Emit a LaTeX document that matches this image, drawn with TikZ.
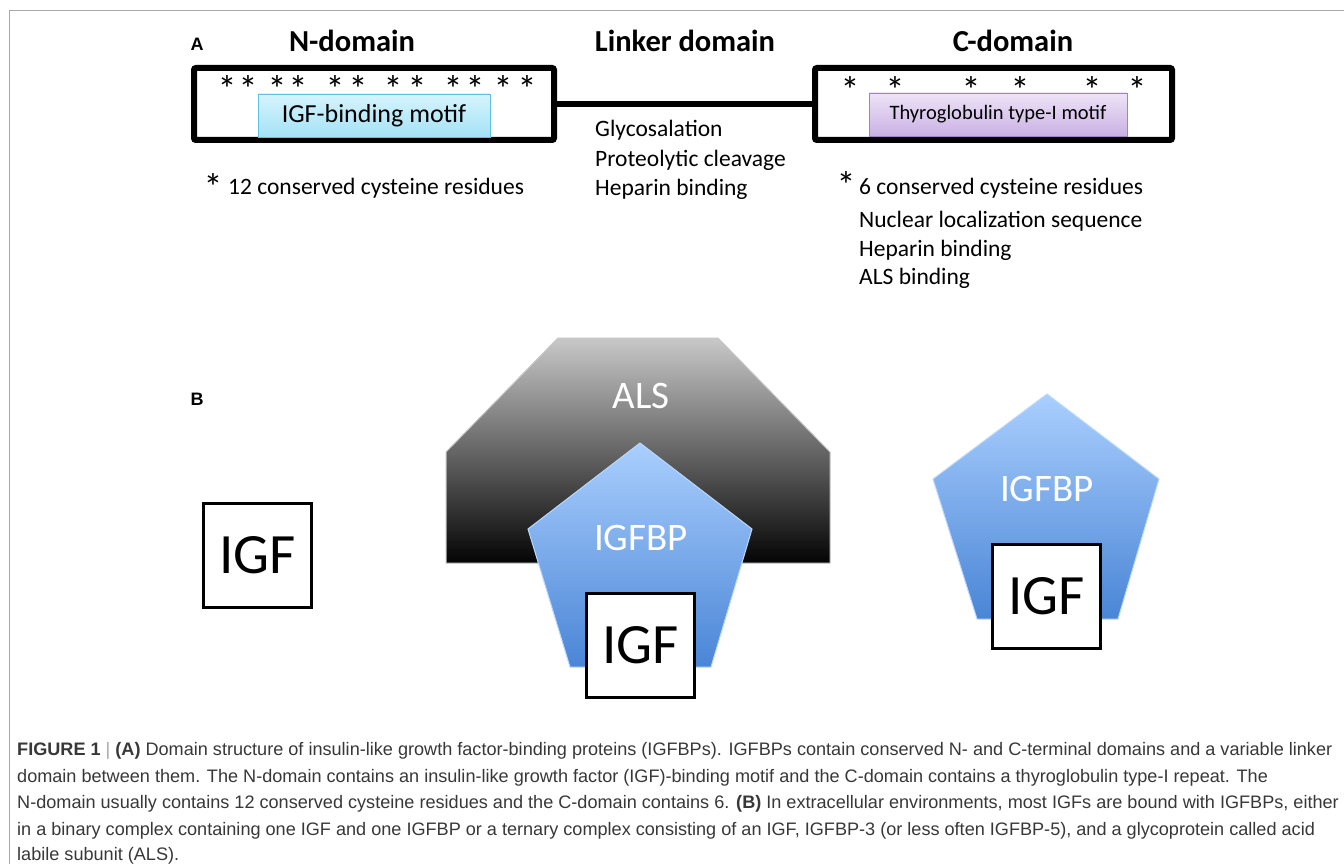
\documentclass[tikz,border=0pt]{standalone}
\usepackage{fontspec}
\setmainfont{Carlito}
\newfontfamily\capfont{Liberation Sans}
\newcommand\cyststar{\raisebox{-22.5pt}{\smash{*}}}
\definecolor{framecol}{HTML}{A8A8A8}
\definecolor{captxt}{HTML}{383838}
\definecolor{cyanT}{HTML}{D6F4FD}
\definecolor{cyanB}{HTML}{A4E2F5}
\definecolor{cyanE}{HTML}{5FC1E0}
\definecolor{lavT}{HTML}{EEE3F7}
\definecolor{lavB}{HTML}{C9B1E4}
\definecolor{lavE}{HTML}{9E84C4}
\definecolor{alsT}{HTML}{C8C8C8}
\definecolor{alsB}{HTML}{040404}
\definecolor{bpT}{HTML}{AACFFE}
\definecolor{bpB}{HTML}{4A85D6}
\definecolor{bpE}{HTML}{BCD8FB}
\begin{document}
\begin{tikzpicture}[x=1pt,y=-1pt,
  domainbox/.style={draw=black,line width=6,rounded corners=2,minimum width=#1,minimum height=72,inner sep=0},
  motifN/.style={draw=cyanE,line width=0.8,top color=cyanT,bottom color=cyanB,minimum width=232,minimum height=43,inner sep=0,font=\fontsize{26}{30}\selectfont},
  motifC/.style={draw=lavE,line width=0.8,top color=lavT,bottom color=lavB,minimum width=258,minimum height=43,inner sep=0,font=\fontsize{20.5}{24}\selectfont},
  cyst/.style={inner sep=0,anchor=center,text height=5pt,text depth=5pt,font=\fontsize{38}{38}\selectfont},
  head/.style={inner sep=0,anchor=base,font=\bfseries\fontsize{30.5}{36}\selectfont},
  sidetext/.style={inner sep=0,anchor=base west,font=\fontsize{23.5}{28}\selectfont},
  panel/.style={inner sep=0,anchor=base,font=\capfont\bfseries\fontsize{18}{20}\selectfont},
  igfbox/.style={draw=black,fill=white,line width=3,minimum width=108,minimum height=104,inner sep=0,font=\fontsize{57}{60}\selectfont},
  whitelabel/.style={inner sep=0,anchor=base,text=white,font=\fontsize{39}{44}\selectfont},
  captext/.style={inner sep=0,anchor=base west,text=captxt,font=\capfont\fontsize{18.1}{26}\selectfont}
]
\useasboundingbox (0,0) rectangle (1344,864);
\fill[white] (0,0) rectangle (1344,864);
\draw[framecol,line width=1.5] (9.5,864) -- (9.5,10.5) -- (1344,10.5);

% ---- Panel A ----
\node[panel] (labA) at (197,51) {A};
\node[head] (hN) at (352,52) {N-domain};
\node[head] (hL) at (685,52) {Linker domain};
\node[head] (hC) at (1013,52) {C-domain};

\node[domainbox=360] (nbox) at (374,104) {};
\node[domainbox=357] (cbox) at (993.5,104) {};
\draw[line width=6] (nbox.east) -- (cbox.west);

\node[motifN] (igfmotif) at (374,115.5) {IGF-binding motif};
\node[motifC] (tgmotif) at (998,114.5) {Thyroglobulin type-I motif};

\foreach \x [count=\i] in {227,248,277,298,335,358,393,417,453,475,503,527}
  \node[cyst] (ns\i) at (\x,80) {\cyststar};
\foreach \x [count=\i] in {850,895,971,1020,1092,1137}
  \node[cyst] (cs\i) at (\x,81) {\cyststar};

\node[cyst] (nstar) at (213,178) {\cyststar};
\node[sidetext] (ntext) at (228,194) {12 conserved cysteine residues};
\node[sidetext] (l1) at (595,137) {Glycosalation};
\node[sidetext] (l2) at (595,166) {Proteolytic cleavage};
\node[sidetext] (l3) at (595,195) {Heparin binding};
\node[cyst] (cstar) at (846,176) {\cyststar};
\node[sidetext] (c1) at (859,194) {6 conserved cysteine residues};
\node[sidetext] (c2) at (859,227) {Nuclear localization sequence};
\node[sidetext] (c3) at (859,256) {Heparin binding};
\node[sidetext] (c4) at (859,284) {ALS binding};

% ---- Panel B ----
\node[panel] (labB) at (197,405) {B};
\node[igfbox] (igf1) at (257.5,555) {IGF};

\shade[top color=alsT,bottom color=alsB] (558,338) -- (718,338) -- (830,452) -- (830,563) -- (446,563) -- (446,452) -- cycle;
\draw[gray!45,line width=1] (558,338) -- (718,338) -- (830,452) -- (830,563) -- (446,563) -- (446,452) -- cycle;
\node[whitelabel] (als) at (641,408) {ALS};

\shade[top color=bpT,bottom color=bpB] (640,443) -- (752,529) -- (711,667) -- (570,667) -- (528,529) -- cycle;
\draw[bpE,line width=1] (640,443) -- (752,529) -- (711,667) -- (570,667) -- (528,529) -- cycle;
\node[whitelabel] (bp1) at (641,550) {IGFBP};
\node[igfbox] (igf2) at (640.5,645.5) {IGF};

\shade[top color=bpT,bottom color=bpB] (1047,394) -- (1159,479) -- (1118,619) -- (977,619) -- (933,479) -- cycle;
\draw[bpE,line width=1] (1047,394) -- (1159,479) -- (1118,619) -- (977,619) -- (933,479) -- cycle;
\node[whitelabel] (bp2) at (1047,501) {IGFBP};
\node[igfbox] (igf3) at (1046.5,596.5) {IGF};

% ---- Caption ----
\node[captext] (cap1) at (17,755.5) {\textbf{FIGURE 1} {\color{gray!70}|} \textbf{(A)} Domain structure of insulin-like growth factor-binding proteins (IGFBPs). IGFBPs contain conserved N- and C-terminal domains and a variable linker};
\node[captext] (cap2) at (17,782) {domain between them. The N-domain contains an insulin-like growth factor (IGF)-binding motif and the C-domain contains a thyroglobulin type-I repeat. The};
\node[captext] (cap3) at (17,808.5) {N-domain usually contains 12 conserved cysteine residues and the C-domain contains 6. \textbf{(B)} In extracellular environments, most IGFs are bound with IGFBPs, either};
\node[captext] (cap4) at (17,835) {in a binary complex containing one IGF and one IGFBP or a ternary complex consisting of an IGF, IGFBP-3 (or less often IGFBP-5), and a glycoprotein called acid};
\node[captext] (cap5) at (17,860.5) {labile subunit (ALS).};
\end{tikzpicture}
\end{document}
